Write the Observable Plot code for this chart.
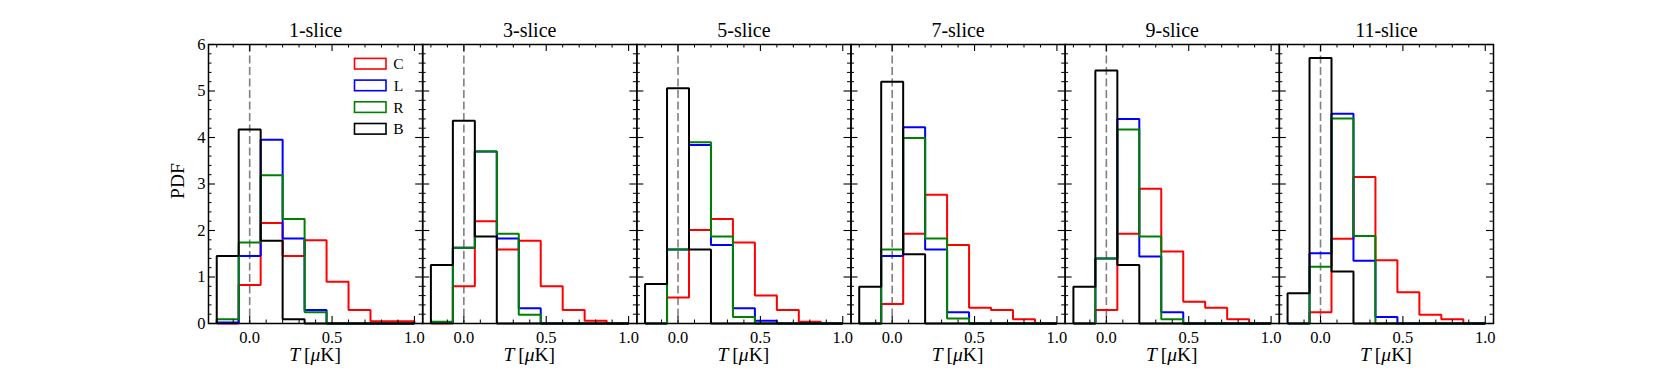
<!DOCTYPE html>
<html>
<head>
<meta charset="utf-8">
<script src="https://cdn.jsdelivr.net/npm/d3@7"></script>
<script src="https://cdn.jsdelivr.net/npm/@observablehq/plot@0.6"></script>
<style>
  html, body { margin: 0; padding: 0; background: white; }
</style>
</head>
<body>
<div id="chart"></div>
<script>
// ---------------- data ----------------
const panels = ["1-slice", "3-slice", "5-slice", "7-slice", "9-slice", "11-slice"];
const seriesNames = ["C", "L", "R", "B"];
const seriesColors = ["#ff0000", "#0000ff", "#008000", "#000000"];
const binEdges = [-0.2, -0.0667, 0.0667, 0.2, 0.3333, 0.4667, 0.6, 0.7333, 0.8667, 1.0];

// PDF values per bin, one row per panel
const pdfC = [
  [0, 0.83, 2.16, 1.45, 1.79, 0.90, 0.29, 0.05, 0.05],
  [0, 0.80, 2.20, 1.59, 1.78, 0.80, 0.29, 0.06, 0],
  [0, 0.56, 2.01, 2.25, 1.74, 0.60, 0.29, 0.04, 0],
  [0, 0.42, 1.93, 2.77, 1.69, 0.34, 0.29, 0.09, 0],
  [0, 0.29, 1.93, 2.90, 1.55, 0.47, 0.34, 0.09, 0],
  [0, 0.24, 1.82, 3.15, 1.36, 0.67, 0.19, 0.09, 0]
];
const pdfL = [
  [0.02, 1.45, 3.95, 1.83, 0.29, 0, 0, 0, 0],
  [0.01, 1.63, 3.70, 1.83, 0.33, 0, 0, 0, 0],
  [0, 1.59, 3.84, 1.69, 0.33, 0.06, 0, 0, 0],
  [0, 1.45, 4.22, 1.59, 0.24, 0, 0, 0, 0],
  [0, 1.40, 4.40, 1.44, 0.24, 0, 0, 0, 0],
  [0, 1.51, 4.51, 1.35, 0.14, 0, 0, 0, 0]
];
const pdfR = [
  [0.09, 1.74, 3.19, 2.25, 0.24, 0, 0, 0, 0],
  [0.04, 1.63, 3.70, 1.93, 0.19, 0, 0, 0, 0],
  [0, 1.59, 3.90, 1.87, 0.14, 0, 0, 0, 0],
  [0, 1.59, 3.99, 1.83, 0.11, 0, 0, 0, 0],
  [0, 1.40, 4.17, 1.87, 0.09, 0, 0, 0, 0],
  [0, 1.22, 4.41, 1.88, 0, 0, 0, 0, 0]
];
const pdfB = [
  [1.45, 4.17, 1.78, 0.09, 0, 0, 0, 0, 0],
  [1.26, 4.36, 1.87, 0, 0, 0, 0, 0, 0],
  [0.85, 5.06, 1.59, 0, 0, 0, 0, 0, 0],
  [0.79, 5.20, 1.49, 0, 0, 0, 0, 0, 0],
  [0.79, 5.44, 1.26, 0, 0, 0, 0, 0, 0],
  [0.65, 5.71, 1.12, 0, 0, 0, 0, 0, 0]
];

const xMajorTicks = [0, 0.5, 1.0];
const xMinorTicks = [-0.2, -0.1, 0.1, 0.2, 0.3, 0.4, 0.6, 0.7, 0.8, 0.9];
const yMajorTicks = [0, 1, 2, 3, 4, 5, 6];
const yMinorTicks = d3.range(0, 30).map(i => +(i * 0.2).toFixed(1)).filter(v => v % 1 !== 0);

// ---------------- layout ----------------
const W = 1661, H = 369;
const mL = 208, mR = 168, mT = 44, mB = 46;
const facetW = (W - mL - mR) / panels.length;
const facetH = H - mT - mB;
const majorLen = 7, minorLen = 3.5;
const font = "'Liberation Serif', 'Times New Roman', serif";

// build step outlines (matplotlib histtype="step") from bins
const seriesValues = {C: pdfC, L: pdfL, R: pdfR, B: pdfB};
const rows = [];
panels.forEach((p, pi) => {
  seriesNames.forEach(s => {
    const h = seriesValues[s][pi];
    const n = h.length;
    rows.push({panel: p, s, x: binEdges[0], y: 0});
    h.forEach((v, i) => rows.push({panel: p, s, x: binEdges[i], y: v}));
    rows.push({panel: p, s, x: binEdges[n], y: h[n - 1]});
    rows.push({panel: p, s, x: binEdges[n], y: 0});
  });
});

const chart = Plot.plot({
  width: W,
  height: H,
  marginLeft: mL,
  marginRight: mR,
  marginTop: mT,
  marginBottom: mB,
  style: {fontFamily: font, fontSize: "16px", background: "white", color: "black"},
  fx: {domain: panels, padding: 0, round: false},
  x: {domain: [-0.25, 1.05]},
  y: {domain: [0, 6]},
  color: {domain: seriesNames, range: seriesColors},
  marks: [
    Plot.ruleX([0], {stroke: "#808080", strokeWidth: 1.6, strokeDasharray: "8,3.5"}),
    Plot.line(rows, {x: "x", y: "y", z: "s", stroke: "s", fx: "panel", curve: "step-after",
      strokeWidth: 2, strokeLinejoin: "miter", strokeLinecap: "butt"}),
    // inward ticks on all four sides
    Plot.ruleX(xMajorTicks, {x: d => d, insetTop: facetH - majorLen, stroke: "black", strokeWidth: 1.1}),
    Plot.ruleX(xMajorTicks, {x: d => d, insetBottom: facetH - majorLen, stroke: "black", strokeWidth: 1.1}),
    Plot.ruleX(xMinorTicks, {x: d => d, insetTop: facetH - minorLen, stroke: "black", strokeWidth: 1}),
    Plot.ruleX(xMinorTicks, {x: d => d, insetBottom: facetH - minorLen, stroke: "black", strokeWidth: 1}),
    Plot.ruleY(yMajorTicks, {y: d => d, insetRight: facetW - majorLen, stroke: "black", strokeWidth: 1.1}),
    Plot.ruleY(yMajorTicks, {y: d => d, insetLeft: facetW - majorLen, stroke: "black", strokeWidth: 1.1}),
    Plot.ruleY(yMinorTicks, {y: d => d, insetRight: facetW - minorLen, stroke: "black", strokeWidth: 1}),
    Plot.ruleY(yMinorTicks, {y: d => d, insetLeft: facetW - minorLen, stroke: "black", strokeWidth: 1}),
    Plot.frame({stroke: "black", strokeWidth: 1.5}),
    Plot.axisX({anchor: "bottom", ticks: xMajorTicks, tickFormat: d3.format(".1f"), tickSize: 0,
      tickPadding: 8, label: null, fontSize: 16.5}),
    Plot.axisY({anchor: "left", ticks: yMajorTicks, tickFormat: d3.format("d"), tickSize: 0,
      tickPadding: 3, label: null, fontSize: 16.5}),
    Plot.axisFx({anchor: "top", tickSize: 0, tickPadding: 8, label: null, fontSize: 20})
  ]
});

document.getElementById("chart").appendChild(chart);

// ---------------- extra texts & legend ----------------
const svg = d3.select(chart);
const extra = svg.append("g").attr("font-family", font).attr("fill", "black");

// y label
extra.append("text")
  .attr("transform", `translate(${177},${181}) rotate(-90)`)
  .attr("text-anchor", "middle")
  .attr("dominant-baseline", "central")
  .attr("font-size", 19.5)
  .text("PDF");

// x labels under each panel
panels.forEach((p, i) => {
  const cx = mL + facetW * (i + 0.5);
  const t = extra.append("text")
    .attr("x", cx).attr("y", 361)
    .attr("text-anchor", "middle")
    .attr("font-size", 19.5);
  t.append("tspan").attr("font-style", "italic").text("T");
  t.append("tspan").text("\u2009[");
  t.append("tspan").attr("font-style", "italic").text("\u03bc");
  t.append("tspan").text("K]");
});

// legend inside first panel
const legend = extra.append("g");
seriesNames.forEach((s, i) => {
  const cy = 63.7 + i * 21.7;
  legend.append("rect")
    .attr("x", 354.5).attr("y", cy - 5.3)
    .attr("width", 31.5).attr("height", 10.6)
    .attr("fill", "none").attr("stroke", seriesColors[i]).attr("stroke-width", 1.6);
  legend.append("text")
    .attr("x", 398.5).attr("y", cy)
    .attr("dominant-baseline", "central")
    .attr("font-size", 15.5)
    .text(s);
});

svg.selectAll("text").attr("font-family", font).style("font-variant", "normal");
</script>
</body>
</html>
